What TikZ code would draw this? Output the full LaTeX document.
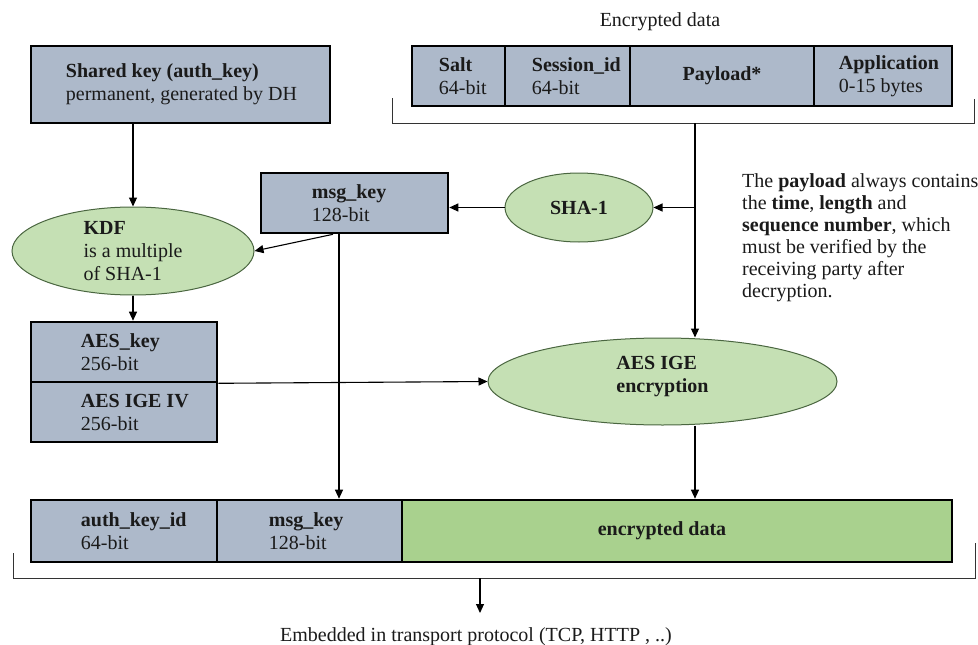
\documentclass[tikz,border=0pt]{standalone}
\usepackage{fontspec}
\IfFontExistsTF{LiberationSerif-Regular.ttf}
  {\setmainfont{LiberationSerif}[Extension=.ttf, UprightFont=*-Regular, BoldFont=*-Bold, ItalicFont=*-Italic, BoldItalicFont=*-BoldItalic]}
  {\setmainfont{Liberation Serif}}
\usetikzlibrary{arrows.meta,shapes.geometric,calc}
\definecolor{boxblue}{HTML}{ADB9CA}
\definecolor{ellgreen}{HTML}{C5E0B4}
\definecolor{ellline}{HTML}{4A6640}
\definecolor{encgreen}{HTML}{A9D18E}
\definecolor{txtcol}{HTML}{1A1A1A}
\definecolor{brkcol}{HTML}{333333}
\begin{document}
\begin{tikzpicture}[x=1pt,y=-1pt,
  cell/.style={draw=black, line width=2.6pt, fill=boxblue, inner sep=0pt, rectangle},
  ell/.style={ellipse, draw=ellline, line width=1pt, fill=ellgreen, inner sep=0pt},
  txt/.style={inner sep=0pt, align=left, text=txtcol, font=\fontsize{20}{23}\selectfont},
  arr/.style={draw=black, line width=1.1pt, -{Triangle[length=9pt,width=8pt]}},
  brk/.style={draw=brkcol, line width=1pt}]
\useasboundingbox (0,0) rectangle (978,645);
\fill[white] (0,0) rectangle (978,645);

% shared key
\node[cell, minimum width=299pt, minimum height=77pt] (shared) at (180.5,84.5) {};
\node[txt, anchor=west] (sharedt) at ([xshift=36pt]shared.west) {\textbf{Shared key (auth\_key)}\\permanent, generated by DH};

% KDF
\node[ell, minimum width=242pt, minimum height=88pt] (kdf) at (133,251) {};
\node[txt] (kdft) at (kdf.center) {\textbf{KDF}\\is a multiple\\of SHA-1};

% msg_key top
\node[cell, minimum width=187pt, minimum height=60pt] (msgtop) at (354.5,203) {};
\node[txt, anchor=west] (msgtopt) at ([xshift=52pt]msgtop.west) {\textbf{msg\_key}\\128-bit};

% SHA-1
\node[ell, minimum width=148pt, minimum height=69pt] (sha) at (579,207.5) {};
\node[txt] (shat) at (sha.center) {\textbf{SHA-1}};

% top row
\node[txt, anchor=base] (enclab) at (660,27) {Encrypted data};
\node[cell, minimum width=93pt, minimum height=60pt] (salt) at (458.5,76) {};
\node[cell, minimum width=125pt, minimum height=60pt] (sess) at (567.5,76) {};
\node[cell, minimum width=184pt, minimum height=60pt] (pay) at (722,76) {};
\node[cell, minimum width=138pt, minimum height=60pt] (app) at (883,76) {};
\node[txt, anchor=west] (saltt) at ([xshift=28pt]salt.west) {\textbf{Salt}\\64-bit};
\node[txt, anchor=west] (sesst) at ([xshift=28pt]sess.west) {\textbf{Session\_id}\\64-bit};
\node[txt] (payt) at (pay.center) {\textbf{Payload*}};
\node[txt, anchor=west] (appt) at ([xshift=26pt]app.west) {\textbf{Application}\\0-15 bytes};

% top bracket
\coordinate (tbl) at (392,98);
\coordinate (tbr) at (974,99);
\coordinate (tb) at (695,123);
\draw[brk] (tbl) |- (tbr |- tb) -- (tbr);

% note
\node[txt, anchor=north west, font=\fontsize{20}{22}\selectfont] (note) at (742,173) {The \textbf{payload} always contains\\the \textbf{time}, \textbf{length} and\\\textbf{sequence number}, which\\must be verified by the\\receiving party after\\decryption.};

% AES keys
\node[cell, minimum width=186pt, minimum height=60pt] (aeskey) at (124,352) {};
\node[cell, minimum width=186pt, minimum height=60pt] (aesiv) at (124,412) {};
\node[txt, anchor=west] (aeskeyt) at ([xshift=51pt]aeskey.west) {\textbf{AES\_key}\\256-bit};
\node[txt, anchor=west] (aesivt) at ([xshift=51pt]aesiv.west) {\textbf{AES IGE IV}\\256-bit};

% AES IGE ellipse
\node[ell, minimum width=349pt, minimum height=87pt] (aesige) at (662.5,381.5) {};
\node[txt] (aesiget) at ([yshift=4.5pt]aesige.center) {\textbf{AES IGE}\\\textbf{encryption}};

% bottom row
\node[cell, minimum width=186pt, minimum height=62pt] (akid) at (124,531) {};
\node[cell, minimum width=185pt, minimum height=62pt] (botmsg) at (309.5,531) {};
\node[cell, fill=encgreen, minimum width=550pt, minimum height=62pt] (enc) at (677,531) {};
\node[txt, anchor=west] (akidt) at ([xshift=51pt]akid.west) {\textbf{auth\_key\_id}\\64-bit};
\node[txt, anchor=west] (botmsgt) at ([xshift=53pt]botmsg.west) {\textbf{msg\_key}\\128-bit};
\node[txt] (enct) at ([xshift=-15pt]enc.center) {\textbf{encrypted data}};

% bottom bracket
\coordinate (bbl) at (13,553);
\coordinate (bbr) at (975,543);
\coordinate (bb) at (480,578);
\draw[brk] (bbl) |- (bbr |- bb) -- (bbr);
\node[txt, anchor=base] (emb) at (476,641) {Embedded in transport protocol (TCP, HTTP , ..)};

% connectors
\draw[arr] (kdf.north |- shared.south) -- (kdf.north);
\draw[arr] (kdf.south) -- (kdf.south |- aeskey.north);
\draw[arr] ([xshift=-21.5pt]msgtop.south) -- (kdf.east);
\draw[arr] ([xshift=-15.5pt]msgtop.south) -- ([xshift=-15.5pt]msgtop.south |- botmsg.north);
\draw[arr] (tb |- sha.east) -- (sha.east);
\draw[arr] (sha.west) -- (sha.west -| msgtop.east);
\draw[arr] (tb) -- (tb |- aesige.north);
\draw[arr] (aeskey.south east) -- (aesige.west);
\draw[arr] (tb |- aesige.south) -- (tb |- enc.north);
\draw[arr] (bb) -- ++(0,35);
\end{tikzpicture}
\end{document}
